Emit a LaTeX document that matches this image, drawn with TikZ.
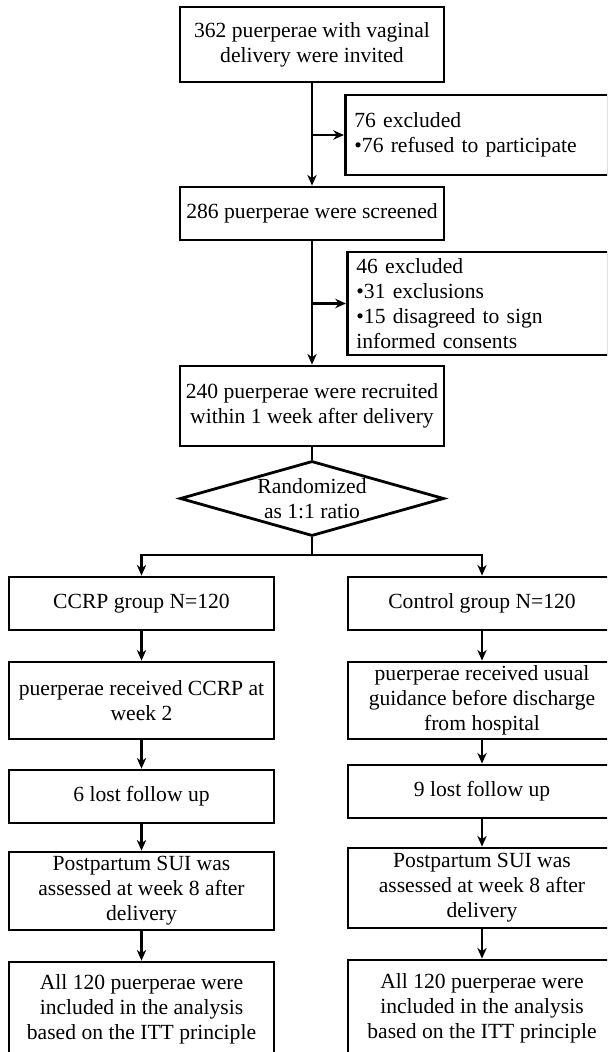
\documentclass[tikz,border=0pt]{standalone}
\usepackage{fontspec}
\setmainfont{Liberation Serif}
\usepackage{tikz}
\usetikzlibrary{arrows.meta,positioning,shapes.geometric,calc}

\begin{document}
\begin{tikzpicture}[x=0.75pt, y=-0.75pt,
stage/.style={draw, line width=2.1pt, align=center, inner sep=2pt, minimum width=198pt, font=\fontsize{16.2}{18.8}\selectfont},
excl/.style={draw, line width=2.1pt, align=left, anchor=west, inner xsep=6.75pt, inner ysep=0pt, font=\fontsize{16.2}{18.8}\selectfont},
decision/.style={draw, diamond, aspect=3.5, line width=2.1pt, align=center, inner sep=0pt, minimum width=198pt, minimum height=56.25pt, font=\fontsize{16.2}{18.8}\selectfont},
flow/.style={-{Stealth[length=8pt, width=7pt, inset=2.5pt]}, line width=1.6pt},
link/.style={line width=1.6pt}
]
\path[fill=white, use as bounding box] (0,0) rectangle (607,1052);
\clip (0,0) rectangle (607,1052);
\node[stage, minimum height=56.25pt] (invite) at (312,44.5) {362 puerperae with vaginal\\delivery were invited};
\node[excl, text width=183.75pt, minimum height=60pt] (excl1) at (344,135) {76 excluded\\•76 refused to participate};
\node[stage, minimum height=39.75pt] (screen) at (312,213.5) {286 puerperae were screened};
\node[excl, text width=182.25pt, minimum height=77.25pt] (excl2) at (346,303.5) {46 excluded\\•31 exclusions\\•15 disagreed to sign\\informed consents};
\node[stage, minimum height=60pt] (recruit) at (312,406) {240 puerperae were recruited\\within 1 week after delivery};
\node[decision] (rand) at (312,498.5) {Randomized\\as 1:1 ratio};
\coordinate (split) at (312,555);
\node[stage, minimum width=198.75pt, minimum height=39.75pt] (ccrp) at (141.5,603.5) {CCRP group N=120};
\node[stage, minimum width=198.75pt, minimum height=57.75pt] (treat) at (141.5,700.5) {puerperae received CCRP at\\week 2};
\node[stage, minimum width=198.75pt, minimum height=39.75pt] (lost1) at (141.5,796.5) {6 lost follow up};
\node[stage, minimum width=198.75pt, minimum height=58.5pt] (assess1) at (141.5,891) {Postpartum SUI was\\assessed at week 8 after\\delivery};
\node[stage, minimum width=198.75pt, minimum height=70.5pt] (itt1) at (141.5,1009) {All 120 puerperae were\\included in the analysis\\based on the ITT principle};
\node[stage, minimum width=201pt, minimum height=39.75pt] (ctrl) at (482,603.5) {Control group N=120};
\node[stage, minimum width=201pt, minimum height=57.75pt] (usual) at (482,700.5) {puerperae received usual\\guidance before discharge\\from hospital};
\node[stage, minimum width=201pt, minimum height=39.75pt] (lost2) at (482,791.5) {9 lost follow up};
\node[stage, minimum width=201pt, minimum height=60pt] (assess2) at (482,888) {Postpartum SUI was\\assessed at week 8 after\\delivery};
\node[stage, minimum width=201pt, minimum height=72pt] (itt2) at (482,1008) {All 120 puerperae were\\included in the analysis\\based on the ITT principle};
\coordinate (j1) at (invite.south |- excl1.west);
\coordinate (j2) at (screen.south |- excl2.west);
\draw[flow] (invite) -- (screen);
\draw[flow] (j1) -- (excl1);
\draw[flow] (screen) -- (recruit);
\draw[flow] (j2) -- (excl2);
\draw[link] (recruit) -- (rand);
\draw[link] (rand) -- (split);
\draw[flow] (split) -| (ccrp);
\draw[flow] (split) -| (ctrl);
\draw[flow] (ccrp) -- (treat);
\draw[flow] (treat) -- (lost1);
\draw[flow] (lost1) -- (assess1);
\draw[flow] (assess1) -- (itt1);
\draw[flow] (ctrl) -- (usual);
\draw[flow] (usual) -- (lost2);
\draw[flow] (lost2) -- (assess2);
\draw[flow] (assess2) -- (itt2);
\end{tikzpicture}
\end{document}
